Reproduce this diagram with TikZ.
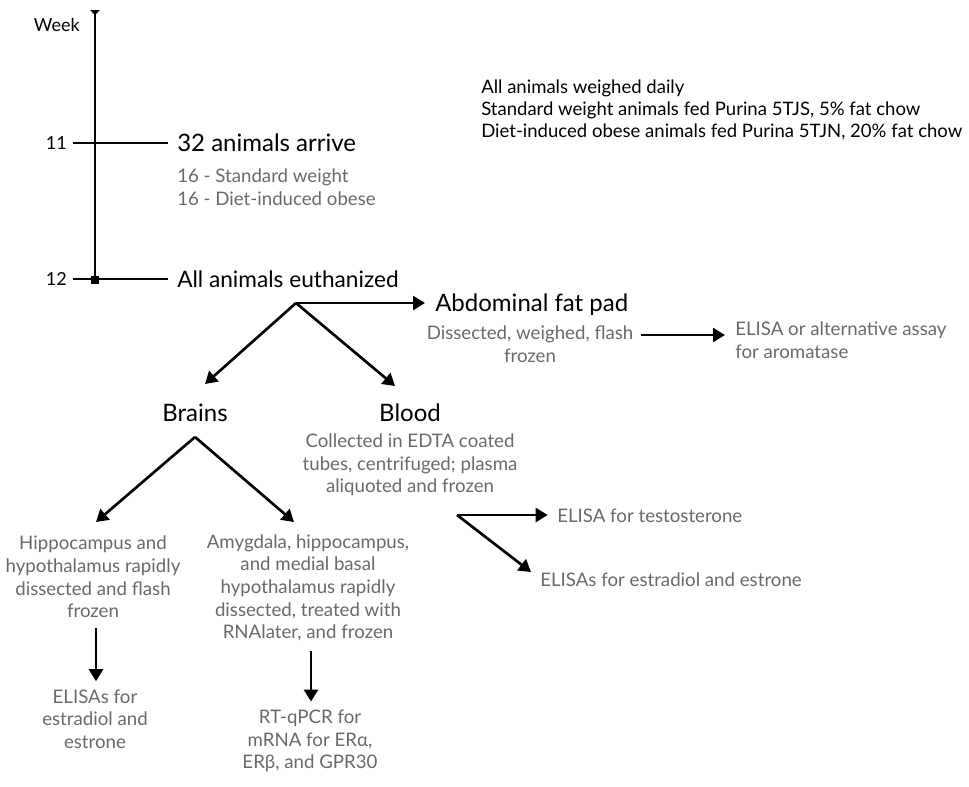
\documentclass[tikz,border=0pt]{standalone}
\usepackage{fontspec}
\setmainfont{Lato}
\usetikzlibrary{arrows, arrows.meta}
\usetikzlibrary{calc}
\definecolor{notegray}{RGB}{105,105,105}

\begin{document}
\begin{tikzpicture}[x=0.75pt, y=-0.75pt,
    head/.style={inner sep=0pt, font=\fontsize{18}{21}\selectfont},
    note/.style={inner sep=0pt, text=notegray, align=center, font=\fontsize{14}{17}\selectfont},
    weekno/.style={inner sep=0pt, anchor=east, font=\fontsize{13.5}{16}\selectfont},
    flow/.style={line width=2pt, -{Triangle[width=10.5pt, length=9pt]}},
    tickline/.style={line width=1.5pt}]
      \useasboundingbox (0,0) rectangle (969,786);

      % time axis
      \coordinate (top) at (95, 10);
      \coordinate (bottom) at (95, 284);
      \draw[line width=1.5pt, {Triangle[reversed, width=7pt, length=4pt]}-{Square[length=6pt, width=6pt]}] (top) -- (bottom);
      \node[weekno] (week) at (80, 25) {Week};
      \node[weekno] (w11) at (67, 143) {11};
      \node[weekno] (w12) at (67, 279) {12};

      \node[head, anchor=west] (arrive) at (177, 143) {32 animals arrive};
      \node[note, align=left, anchor=west] (groups) at (177, 187) {16 - Standard weight\\16 - Diet-induced obese};
      \node[head, anchor=west, font=\fontsize{17}{20}\selectfont] (euth) at (177, 279) {All animals euthanized};
      \draw[tickline, shorten <=4.5pt, shorten >=6.75pt] (w11.east) -- (w11.east -| arrive.west);
      \draw[tickline, shorten <=4.5pt, shorten >=6.75pt] (w12.east) -- (w12.east -| euth.west);

      \node[inner sep=0pt, anchor=west, align=left, font=\fontsize{13.9}{16.5}\selectfont] (care) at (481, 110)
        {All animals weighed daily\\Standard weight animals fed Purina 5TJS, 5\% fat chow\\Diet-induced obese animals fed Purina 5TJN, 20\% fat chow};

      % tissues
      \coordinate (split) at (296, 303);
      \node[head, anchor=west] (fat) at (435, 305) {Abdominal fat pad};
      \node[note] (fatnote) at (530, 344) {Dissected, weighed, flash\\frozen};
      \node[note, align=left, anchor=west] (aromatase) at (735, 340) {ELISA or alternative assay\\for aromatase};
      \node[head] (brains) at (195, 413) {Brains};
      \node[head] (blood) at (410, 413) {Blood};
      \node[note] (bloodnote) at (410, 465) {Collected in EDTA coated\\tubes, centrifuged; plasma\\aliquoted and frozen};

      \coordinate (brainsin) at (205, 384);
      \coordinate (bloodin) at (395, 386);
      \draw[flow, shorten >=7.5pt] (split) -- (split -| fat.west);
      \draw[flow] (split) -- (brainsin);
      \draw[flow] (split) -- (bloodin);
      \coordinate (fatout) at (641, 335);
      \draw[flow, shorten >=7.5pt] (fatout) -- (fatout -| aromatase.west);

      % brain samples
      \coordinate (brainsplit) at (195, 437);
      \coordinate (hippin) at (96, 522);
      \coordinate (amygin) at (294, 522);
      \node[note] (hipp) at (93, 577) {Hippocampus and\\hypothalamus rapidly\\dissected and flash\\frozen};
      \node[note] (amyg) at (308, 588) {Amygdala, hippocampus,\\and medial basal\\hypothalamus rapidly\\dissected, treated with\\RNAlater, and frozen};
      \draw[flow] (brainsplit) -- (hippin);
      \draw[flow] (brainsplit) -- (amygin);

      \node[note] (elisabrain) at (95, 719) {ELISAs for\\estradiol and\\estrone};
      \node[note] (rtpcr) at (310, 741) {RT-qPCR for\\mRNA for ERα,\\ERβ, and GPR30};
      \coordinate (hippout) at (96, 628);
      \coordinate (amygout) at (311, 651);
      \draw[flow, shorten >=6pt] (hippout) -- (hippout |- elisabrain.north);
      \draw[flow, shorten >=6pt] (amygout) -- (amygout |- rtpcr.north);

      % blood samples
      \coordinate (bloodsplit) at (457, 515);
      \node[note, anchor=west] (testo) at (557, 516) {ELISA for testosterone};
      \node[note, anchor=west] (estro) at (540, 580) {ELISAs for estradiol and estrone};
      \coordinate (estroin) at (531, 572);
      \draw[flow, shorten >=7pt] (bloodsplit) -- (bloodsplit -| testo.west);
      \draw[flow] (bloodsplit) -- (estroin);
    \end{tikzpicture}
\end{document}
